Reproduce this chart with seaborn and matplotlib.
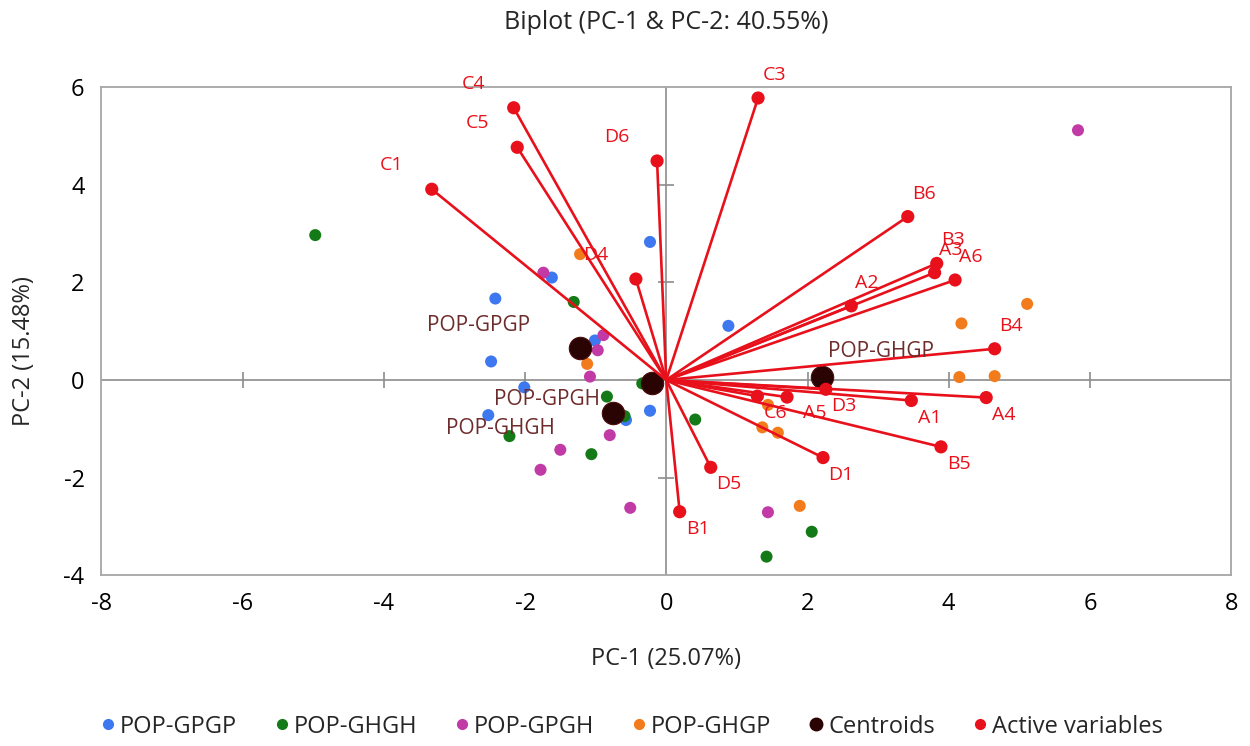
import matplotlib
matplotlib.use('Agg')
import pandas as pd
import matplotlib.pyplot as plt
import seaborn as sns
from matplotlib.lines import Line2D

# observation scores (PC-1, PC-2) per group
gpgp_x = [-0.23, -1.62, -2.42, 0.88, -1.01, -2.48, -2.01, -2.52, -0.57, -0.23]
gpgp_y = [2.83, 2.10, 1.67, 1.11, 0.81, 0.38, -0.15, -0.72, -0.82, -0.63]
ghgh_x = [-4.97, -1.31, -0.34, -0.84, -0.59, -2.22, -1.06, 0.41, 2.06, 1.42]
ghgh_y = [2.97, 1.60, -0.07, -0.34, -0.74, -1.15, -1.52, -0.81, -3.11, -3.62]
gpgh_x = [5.83, -1.74, -0.89, -0.97, -1.08, -0.80, -1.50, -1.78, -0.51, 1.44]
gpgh_y = [5.12, 2.20, 0.92, 0.61, 0.07, -1.13, -1.43, -1.84, -2.62, -2.71]
ghgp_x = [-1.22, -1.12, 5.11, 4.18, 4.15, 4.65, 1.44, 1.36, 1.58, 1.89]
ghgp_y = [2.58, 0.33, 1.56, 1.16, 0.06, 0.08, -0.51, -0.97, -1.08, -2.58]

groups = ['POP-GPGP', 'POP-GHGH', 'POP-GPGH', 'POP-GHGP']

# centroids
cent_names = ['POP-GPGP', 'POP-GHGH', 'POP-GPGH', 'POP-GHGP']
cent_x = [-1.22, -0.76, -0.20, 2.20]
cent_y = [0.65, -0.68, -0.06, 0.07]

# active variables (loadings)
var_names = ['C3', 'C4', 'C5', 'D6', 'C1', 'D4', 'B6', 'B3', 'A3', 'A6', 'A2',
             'B4', 'A4', 'A1', 'D3', 'A5', 'C6', 'B5', 'D1', 'D5', 'B1']
var_x = [1.30, -2.16, -2.11, -0.13, -3.32, -0.43, 3.42, 3.83, 3.80, 4.09, 2.62,
         4.65, 4.53, 3.47, 2.26, 1.71, 1.29, 3.89, 2.22, 0.63, 0.19]
var_y = [5.78, 5.58, 4.77, 4.49, 3.91, 2.07, 3.35, 2.39, 2.20, 2.05, 1.52,
         0.64, -0.36, -0.42, -0.19, -0.35, -0.33, -1.37, -1.59, -1.79, -2.70]

colors = {'POP-GPGP': '#3d78f0', 'POP-GHGH': '#137a17', 'POP-GPGH': '#c23aa6',
          'POP-GHGP': '#f27b1c'}
cent_color = '#2a0303'
var_color = '#e8111b'
label_color = '#6e2b2b'

sns.set_style('white')
plt.rcParams['font.family'] = ['Open Sans', 'DejaVu Sans']
plt.rcParams['axes.unicode_minus'] = False

obs = pd.concat([
    pd.DataFrame({'x': gpgp_x, 'y': gpgp_y, 'group': 'POP-GPGP'}),
    pd.DataFrame({'x': ghgh_x, 'y': ghgh_y, 'group': 'POP-GHGH'}),
    pd.DataFrame({'x': gpgh_x, 'y': gpgh_y, 'group': 'POP-GPGH'}),
    pd.DataFrame({'x': ghgp_x, 'y': ghgp_y, 'group': 'POP-GHGP'}),
], ignore_index=True)
cents = pd.DataFrame({'x': cent_x, 'y': cent_y, 'name': cent_names})
vars_df = pd.DataFrame({'x': var_x, 'y': var_y, 'name': var_names})

fig = plt.figure(figsize=(12.5, 7.46), dpi=100)
ax = fig.add_axes([0.081, 0.229, 0.904, 0.654])
ax.set_xlim(-8, 8)
ax.set_ylim(-4, 6)
ax.set_xticks(range(-8, 9, 2))
ax.set_yticks(range(-4, 7, 2))

# axes through origin with crossing ticks
ax.axhline(0, color='#8c8c8c', lw=1.2, zorder=1)
ax.axvline(0, color='#8c8c8c', lw=1.2, zorder=1)
xt = [t for t in ax.get_xticks() if -8 < t < 8 and t != 0]
yt = [t for t in ax.get_yticks() if -4 < t < 6 and t != 0]
ax.plot(xt, [0] * len(xt), ls='none', marker='|', ms=12, mew=1.2, color='#8c8c8c', zorder=1)
ax.plot([0] * len(yt), yt, ls='none', marker='_', ms=12, mew=1.2, color='#8c8c8c', zorder=1)

sns.scatterplot(data=obs, x='x', y='y', hue='group', palette=colors, s=75,
                edgecolor='none', legend=False, ax=ax, zorder=3)
sns.scatterplot(data=cents, x='x', y='y', color=cent_color, s=260,
                edgecolor='#4a0c0c', linewidth=0.8, legend=False, ax=ax, zorder=4)

for _, r in vars_df.iterrows():
    ax.plot([0, r['x']], [0, r['y']], color=var_color, lw=1.9, zorder=5)
sns.scatterplot(data=vars_df, x='x', y='y', color=var_color, s=90,
                edgecolor='none', legend=False, ax=ax, zorder=6)

# variable labels (pixel offsets like the spreadsheet's label placement)
for _, r in vars_df.iterrows():
    if r['y'] > 0 and r['x'] < 0:
        off = (-40, 24)
    elif r['y'] > 0:
        off = (16, 23)
    else:
        off = (18, -17)
    if r['name'] == 'A5':
        off = (28, -16)
    ax.annotate(r['name'], (r['x'], r['y']), xytext=off, textcoords='offset pixels',
                ha='center', va='center', color=var_color, fontsize=14, zorder=7)

cent_off = {'POP-GPGP': (-102, 23), 'POP-GHGH': (-112, -15),
            'POP-GPGH': (-105, -17), 'POP-GHGP': (59, 25)}
for _, r in cents.iterrows():
    ax.annotate(r['name'], (r['x'], r['y']), xytext=cent_off[r['name']],
                textcoords='offset pixels', ha='center', va='center',
                color=label_color, fontsize=15, zorder=7)

for s in ax.spines.values():
    s.set_color('#a6a6a6')
    s.set_linewidth(1.3)
ax.tick_params(length=0, labelsize=17, colors='black')
ax.tick_params(axis='x', pad=12)
ax.tick_params(axis='y', pad=12)
ax.set_xlabel('PC-1 (25.07%)', fontsize=17)
ax.set_ylabel('PC-2 (15.48%)', fontsize=17)
ax.xaxis.set_label_coords(0.5, -0.148)
ax.yaxis.set_label_coords(-0.058, 0.46)

fig.text(0.533, 0.970, 'Biplot (PC-1 & PC-2: 40.55%)', ha='center', va='center', fontsize=18)

handles = [Line2D([], [], ls='none', marker='o', ms=7, color=colors[g]) for g in groups]
handles.append(Line2D([], [], ls='none', marker='o', ms=9, color=cent_color))
handles.append(Line2D([], [], ls='none', marker='o', ms=7, color=var_color))
labels = groups + ['Centroids', 'Active variables']
fig.legend(handles, labels, loc='center', bbox_to_anchor=(0.505, 0.026), ncol=6,
           frameon=False, handletextpad=0.15, columnspacing=1.55, handlelength=0.7,
           prop={'size': 17})

fig.savefig('out.png', dpi=100)
